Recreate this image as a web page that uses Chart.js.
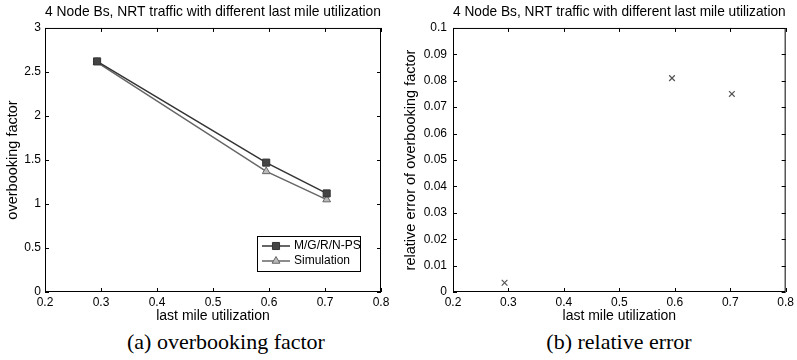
<!DOCTYPE html>
<html>
<head>
<meta charset="utf-8">
<script src="https://cdn.jsdelivr.net/npm/chart.js@4/dist/chart.umd.min.js"></script>
<style>
  html, body { margin: 0; padding: 0; background: #fff; }
  #wrap { position: relative; width: 797px; height: 360px; overflow: hidden; }
  .panel { position: absolute; top: 0; height: 326px; }
  #panelA { left: 0; width: 400px; }
  #panelB { left: 400px; width: 397px; }
  .caption {
    position: absolute; top: 329px; width: 300px; text-align: center;
    font-family: "Liberation Serif", "Times New Roman", serif; font-size: 22px; color: #000;
  }
</style>
</head>
<body>
<div id="wrap">
  <div class="panel" id="panelA"><canvas id="chartA"></canvas></div>
  <div class="panel" id="panelB"><canvas id="chartB"></canvas></div>
  <div class="caption" style="left:76px">(a) overbooking factor</div>
  <div class="caption" style="left:469px">(b) relative error</div>
</div>
<script>
'use strict';

// values
const TITLE = '4 Node Bs, NRT traffic with different last mile utilization';
const utilization = [0.293, 0.595, 0.703];
const mgrps = [2.62, 1.47, 1.12];
const simulation = [2.61, 1.37, 1.05];
const relError = [0.0035, 0.081, 0.075];

Chart.defaults.font.family = '"Liberation Sans", Arial, sans-serif';
Chart.defaults.font.size = 12;
Chart.defaults.color = '#000';

const pts = (xs, ys) => xs.map((x, i) => ({ x, y: ys[i] }));
const fmt = v => String(+v.toFixed(3));

// matlab style box with inward ticks on all four sides
const boxPlugin = {
  id: 'box',
  afterDraw(chart) {
    const { ctx, chartArea: a, scales } = chart;
    ctx.save();
    ctx.strokeStyle = '#000';
    ctx.lineWidth = 1;
    ctx.strokeRect(a.left + 0.5, a.top + 0.5, a.width - 1, a.height - 1);
    ctx.beginPath();
    scales.x.ticks.forEach(t => {
      const px = Math.round(scales.x.getPixelForValue(t.value)) + 0.5;
      ctx.moveTo(px, a.bottom); ctx.lineTo(px, a.bottom - 4);
      ctx.moveTo(px, a.top); ctx.lineTo(px, a.top + 4);
    });
    scales.y.ticks.forEach(t => {
      const py = Math.round(scales.y.getPixelForValue(t.value)) + 0.5;
      ctx.moveTo(a.left, py); ctx.lineTo(a.left + 4, py);
      ctx.moveTo(a.right, py); ctx.lineTo(a.right - 4, py);
    });
    ctx.stroke();
    ctx.restore();
  },
};

// legend box inside the plot, bottom right
const insideLegend = {
  id: 'insideLegend',
  afterDraw(chart, args, opts) {
    if (!opts.show) return;
    const { ctx, chartArea: a } = chart;
    const w = 103, h = 35;
    const x0 = a.right - 21 - w, y0 = a.bottom - 21 - h;
    ctx.save();
    ctx.fillStyle = '#fff';
    ctx.fillRect(x0, y0, w, h);
    ctx.strokeStyle = '#000';
    ctx.lineWidth = 1;
    ctx.strokeRect(x0 + 0.5, y0 + 0.5, w, h);
    ctx.font = '12px "Liberation Sans", Arial, sans-serif';
    ctx.textBaseline = 'middle';
    chart.data.datasets.forEach((ds, i) => {
      const y = y0 + 10 + i * 15;
      ctx.strokeStyle = ds.borderColor;
      ctx.lineWidth = ds.borderWidth;
      ctx.beginPath();
      ctx.moveTo(x0 + 5, y); ctx.lineTo(x0 + 33, y);
      ctx.stroke();
      ctx.fillStyle = ds.pointBackgroundColor;
      ctx.strokeStyle = ds.pointBorderColor;
      ctx.lineWidth = 1;
      Chart.helpers.drawPoint(ctx, { pointStyle: ds.pointStyle, radius: ds.pointRadius, borderWidth: 1 }, x0 + 19, y);
      ctx.fillStyle = '#000';
      ctx.fillText(ds.label, x0 + 37, y);
    });
    ctx.restore();
  },
};

function axes(yMin, yMax, yStep, yTitle, yWidth, yTitlePad, yTickPad) {
  return {
    x: {
      type: 'linear', min: 0.2, max: 0.8,
      grid: { display: false, drawTicks: false }, border: { display: false },
      ticks: { stepSize: 0.1, padding: 3, maxRotation: 0, autoSkip: false, callback: fmt },
      title: { display: true, text: 'last mile utilization', font: { size: 14 }, padding: { top: 0, bottom: 1 } },
      afterFit(s) { s.height = 34; },
    },
    y: {
      type: 'linear', min: yMin, max: yMax,
      grid: { display: false, drawTicks: false }, border: { display: false },
      ticks: { stepSize: yStep, padding: yTickPad, autoSkip: false, callback: fmt },
      title: { display: true, text: yTitle, font: { size: 14.5 }, padding: { top: yTitlePad, bottom: 0 } },
      afterFit(s) { s.width = yWidth; },
    },
  };
}

function baseOptions(padRight, legendOn) {
  return {
    responsive: true,
    maintainAspectRatio: false,
    animation: false,
    layout: { padding: { left: 0, right: padRight, top: 0, bottom: 0 } },
    scales: {},
    plugins: {
      legend: { display: false },
      tooltip: { enabled: false },
      insideLegend: { show: legendOn },
      title: {
        display: true, text: TITLE, fullSize: false,
        font: { size: 14.8, weight: 'normal' },
        padding: { top: 3, bottom: 7.2 },
      },
    },
  };
}

const optsA = baseOptions(19, true);
optsA.scales = axes(0, 3, 0.5, 'overbooking factor', 45, 4, 4);

new Chart(document.getElementById('chartA'), {
  type: 'scatter',
  data: {
    datasets: [
      {
        label: 'M/G/R/N-PS',
        data: pts(utilization, mgrps),
        showLine: true,
        borderColor: '#333',
        borderWidth: 1.5,
        pointStyle: 'rect',
        pointRadius: 5,
        pointBackgroundColor: '#444',
        pointBorderColor: '#333',
        pointBorderWidth: 1,
      },
      {
        label: 'Simulation',
        data: pts(utilization, simulation),
        showLine: true,
        borderColor: '#666',
        borderWidth: 1.5,
        pointStyle: 'triangle',
        pointRadius: 4.5,
        pointBackgroundColor: '#bbb',
        pointBorderColor: '#666',
        pointBorderWidth: 1,
      },
    ],
  },
  options: optsA,
  plugins: [boxPlugin, insideLegend],
});

const optsB = baseOptions(9, false);
optsB.scales = axes(0, 0.1, 0.01, 'relative error of overbooking factor', 53, 2, 6);

new Chart(document.getElementById('chartB'), {
  type: 'scatter',
  data: {
    datasets: [
      {
        label: 'relative error',
        data: pts(utilization, relError),
        pointStyle: 'crossRot',
        pointRadius: 4,
        pointBorderColor: '#555',
        pointBorderWidth: 1.2,
      },
    ],
  },
  options: optsB,
  plugins: [boxPlugin],
});
</script>
</body>
</html>
